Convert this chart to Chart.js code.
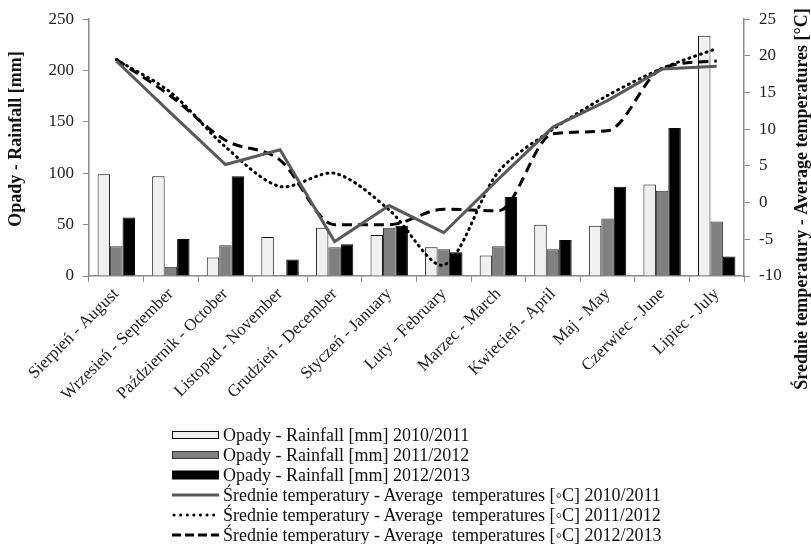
<!DOCTYPE html>
<html>
<head>
<meta charset="utf-8">
<script src="https://cdn.jsdelivr.net/npm/chart.js@4.4.1/dist/chart.umd.min.js"></script>
<style>
  html, body { margin:0; padding:0; background:#fff; }
  #wrap { position:relative; width:811px; height:544px; overflow:hidden; }
  canvas { position:absolute; left:0; top:0; }
  #legend { position:absolute; left:172px; top:425px; font-family:"Liberation Serif", serif; font-size:18px; color:#111; }
  .row { height:20px; line-height:20px; display:flex; align-items:center; white-space:nowrap; }
  .row svg { width:47px; height:12px; margin-right:4px; flex:none; }
</style>
</head>
<body>
<div id="wrap">
<canvas id="c" width="811" height="544"></canvas>
<div id="legend"></div>
</div>
<script>
const categories = ["Sierpień - August","Wrzesień - September","Październik - October","Listopad - November","Grudzień - December","Styczeń - January","Luty - February","Marzec - March","Kwiecień - April","Maj - May","Czerwiec - June","Lipiec - July"];

const rain2010 = [99, 97, 18, 38, 47, 40, 28, 20, 50, 49, 89, 234];
const rain2011 = [29, 9, 30, 1, 28, 47, 26, 29, 26, 56, 83, 53];
const rain2012 = [57, 36, 97, 16, 31, 49, 23, 77, 35, 87, 144, 19];

const temp2010 = [19.3, 12.2, 5.2, 7.2, -5.3, -0.4, -4.1, 3.2, 10.3, 13.9, 18.2, 18.6];
const temp2011 = [19.5, 15.0, 7.6, 2.2, 4.0, -1.0, -8.5, 4.2, 10.0, 14.6, 18.3, 21.0];
const temp2012 = [19.5, 14.5, 8.5, 5.8, -3.0, -3.0, -0.9, -1.1, 9.4, 9.8, 18.3, 19.3];

const seriesNames = [
  "Opady - Rainfall [mm] 2010/2011",
  "Opady - Rainfall [mm] 2011/2012",
  "Opady - Rainfall [mm] 2012/2013",
  "Średnie temperatury - Average  temperatures [◦C] 2010/2011",
  "Średnie temperatury - Average  temperatures [◦C] 2011/2012",
  "Średnie temperatury - Average  temperatures [◦C] 2012/2013"
];
const leftTitle = "Opady - Rainfall [mm]";
const rightTitle = "Średnie temperatury - Average temperatures [°C]";

const FONT = '"Liberation Serif", serif';
const AXIS = '#8a8a8a';

const titlePlugin = {
  id: 'axisTitles',
  afterDraw(chart) {
    const ctx = chart.ctx;
    ctx.save();
    ctx.font = 'bold 18px "Liberation Serif"';
    ctx.fillStyle = '#111';
    ctx.textAlign = 'center';
    ctx.textBaseline = 'middle';
    ctx.translate(16, 139);
    ctx.rotate(-Math.PI / 2);
    ctx.fillText(leftTitle, 0, 0);
    ctx.restore();
    ctx.save();
    ctx.font = 'bold 18px "Liberation Serif"';
    ctx.fillStyle = '#111';
    ctx.textAlign = 'center';
    ctx.textBaseline = 'middle';
    ctx.translate(802, 199);
    ctx.rotate(-Math.PI / 2);
    ctx.fillText(rightTitle, 0, 0);
    ctx.restore();
  }
};

new Chart(document.getElementById('c'), {
  type: 'bar',
  data: {
    labels: categories,
    datasets: [
      { type:'line', label: seriesNames[3], data: temp2010, yAxisID:'y2', borderColor:'#595959', borderWidth:3, pointRadius:0, tension:0, order:0, fill:false },
      { type:'line', label: seriesNames[4], data: temp2011, yAxisID:'y2', borderColor:'#000', borderWidth:3, borderDash:[1,5], borderCapStyle:'round', pointRadius:0, tension:0.3, order:0, fill:false },
      { type:'line', label: seriesNames[5], data: temp2012, yAxisID:'y2', borderColor:'#000', borderWidth:3, borderDash:[10,6], pointRadius:0, cubicInterpolationMode:'monotone', order:0, fill:false },
      { label: seriesNames[0], data: rain2010, yAxisID:'y', backgroundColor:'#f0f0f0', borderColor:'#111', borderWidth:1, order:1 },
      { label: seriesNames[1], data: rain2011, yAxisID:'y', backgroundColor:'#808080', borderColor:'#333', borderWidth:1, order:1 },
      { label: seriesNames[2], data: rain2012, yAxisID:'y', backgroundColor:'#000', borderColor:'#000', borderWidth:1, order:1 }
    ]
  },
  options: {
    responsive:false,
    animation:false,
    devicePixelRatio:1,
    layout: { padding: { top:19, left:0, right:0, bottom:0 } },
    datasets: { bar: { barPercentage:1.0, categoryPercentage:0.685 } },
    plugins: { legend:{ display:false }, tooltip:{ enabled:false } },
    scales: {
      x: {
        offset:true,
        grid:{ display:true, drawOnChartArea:false, drawTicks:true, tickLength:6, color:AXIS, offset:true },
        border:{ display:true, color:AXIS, width:1.5 },
        ticks:{ minRotation:45, maxRotation:45, autoSkip:false, padding:2, color:'#222', font:{ family:FONT, size:17 } },
        afterFit(s){ s.height = 268; }
      },
      y: {
        position:'left', min:0, max:250,
        grid:{ display:true, drawOnChartArea:false, drawTicks:true, tickLength:6, color:AXIS },
        border:{ display:true, color:AXIS, width:1.5 },
        ticks:{ stepSize:50, padding:9, color:'#222', font:{ family:FONT, size:17 } },
        afterFit(s){ s.width = 89; }
      },
      y2: {
        position:'right', min:-10, max:25,
        grid:{ display:true, drawOnChartArea:false, drawTicks:true, tickLength:6, color:AXIS },
        border:{ display:true, color:AXIS, width:1.5 },
        ticks:{ stepSize:5, padding:9, color:'#222', font:{ family:FONT, size:17 } },
        afterFit(s){ s.width = 67; }
      }
    }
  },
  plugins:[titlePlugin]
});

// HTML legend
const swatches = [
  '<svg viewBox="0 0 47 12"><rect x="0.5" y="2.5" width="46" height="7" fill="#f0f0f0" stroke="#111" stroke-width="1"/></svg>',
  '<svg viewBox="0 0 47 12"><rect x="0.5" y="2.5" width="46" height="7" fill="#808080" stroke="#333" stroke-width="1"/></svg>',
  '<svg viewBox="0 0 47 12"><rect x="0.5" y="2" width="46" height="8" fill="#000" stroke="#000" stroke-width="1"/></svg>',
  '<svg viewBox="0 0 47 12"><line x1="0" y1="6" x2="47" y2="6" stroke="#595959" stroke-width="3"/></svg>',
  '<svg viewBox="0 0 47 12"><line x1="2" y1="6" x2="47" y2="6" stroke="#000" stroke-width="3" stroke-dasharray="0.1 6.5" stroke-linecap="round"/></svg>',
  '<svg viewBox="0 0 47 12"><line x1="0" y1="6" x2="47" y2="6" stroke="#000" stroke-width="3" stroke-dasharray="9 4"/></svg>'
];
const leg = document.getElementById('legend');
seriesNames.forEach((n, i) => {
  const r = document.createElement('div');
  r.className = 'row';
  r.innerHTML = swatches[i];
  const t = document.createElement('span');
  t.textContent = n;
  t.style.whiteSpace = 'pre';
  r.appendChild(t);
  leg.appendChild(r);
});
</script>
</body>
</html>
